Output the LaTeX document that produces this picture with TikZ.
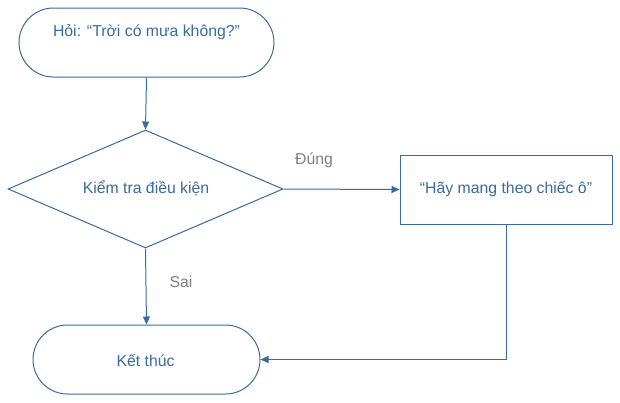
\documentclass[tikz,border=0pt]{standalone}
\usepackage{fontspec}
\setmainfont{Liberation Sans}
\usetikzlibrary{arrows.meta,shapes.geometric}
\definecolor{fc}{HTML}{3A6B9F}
\definecolor{lg}{HTML}{7F7F7F}
\tikzset{
  x=1pt,y=-1pt,
  shp/.style={draw=fc,line width=1pt,fill=white,inner sep=0pt},
  txt/.style={text=fc,font=\fontsize{15.8}{18}\selectfont,inner sep=0pt},
  lbl/.style={text=lg,font=\fontsize{15.8}{18}\selectfont,inner sep=0pt},
  conn/.style={draw=fc,line width=1pt,-{Triangle[length=8pt,width=7pt]}}
}
\begin{document}
\begin{tikzpicture}
\useasboundingbox (0,0) rectangle (620,402);
% start stadium
\node[shp,minimum width=255pt,minimum height=69pt,rounded corners=34.5pt] (start) at (146.5,42.5) {};
\node[txt] (starttxt) at (146.5,32) {Hỏi: “Trời có mưa không?”};
% diamond
\node[shp,diamond,minimum width=275pt,minimum height=118pt,aspect=2.33] (dec) at (145.5,189) {};
\node[txt] (dectxt) at (146,188) {Kiểm tra điều kiện};
% rectangle
\node[shp,minimum width=212pt,minimum height=69pt] (act) at (506,189.5) {};
\node[txt] (acttxt) at (506,189) {“Hãy mang theo chiếc ô”};
% end stadium
\node[shp,minimum width=227pt,minimum height=69pt,rounded corners=34.5pt] (stop) at (146.5,359.5) {};
\node[txt] (stoptxt) at (145.5,360) {Kết thúc};
% connectors
\draw[conn] (start.south) -- (dec.north);
\draw[conn] (dec.east) -- (act.west);
\draw[conn] (dec.south) -- (stop.north);
\coordinate (corner) at (act.south |- stop.east);
\draw[conn] (act.south) -- (corner) -- (stop.east);
% labels
\node[lbl] (yes) at (314,160) {Đúng};
\node[lbl] (no) at (181,282) {Sai};
\end{tikzpicture}
\end{document}
